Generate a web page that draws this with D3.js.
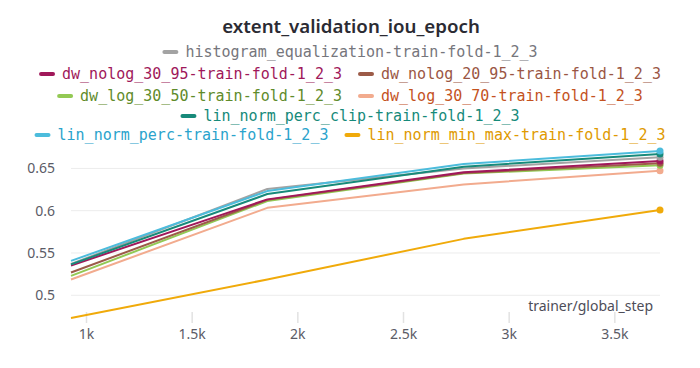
<!DOCTYPE html>
<html>
<head>
<meta charset="utf-8">
<script src="https://cdn.jsdelivr.net/npm/d3@7"></script>
<style>
  html, body { margin: 0; padding: 0; background: #fff; }
  svg { display: block; }
</style>
</head>
<body>
<svg id="chart" width="700" height="368"></svg>
<script>
const title = "extent_validation_iou_epoch";
const xLabel = "trainer/global_step";
const steps = [929, 1858, 2787, 3716];
const seriesNames = [
  "histogram_equalization-train-fold-1_2_3",
  "dw_nolog_30_95-train-fold-1_2_3",
  "dw_nolog_20_95-train-fold-1_2_3",
  "dw_log_30_50-train-fold-1_2_3",
  "dw_log_30_70-train-fold-1_2_3",
  "lin_norm_perc_clip-train-fold-1_2_3",
  "lin_norm_perc-train-fold-1_2_3",
  "lin_norm_min_max-train-fold-1_2_3"
];
const histogramEq = [0.5370, 0.6256, 0.6500, 0.6631];
const dwNolog3095 = [0.5352, 0.6134, 0.6454, 0.6588];
const dwNolog2095 = [0.5269, 0.6128, 0.6445, 0.6560];
const dwLog3050   = [0.5229, 0.6115, 0.6440, 0.6537];
const dwLog3070   = [0.5186, 0.6034, 0.6311, 0.6473];
const linPercClip = [0.5365, 0.6197, 0.6520, 0.6670];
const linPerc     = [0.5406, 0.6232, 0.6552, 0.6706];
const linMinMax   = [0.4731, 0.5186, 0.5667, 0.6007];
const seriesValues = [histogramEq, dwNolog3095, dwNolog2095, dwLog3050, dwLog3070, linPercClip, linPerc, linMinMax];
const xTicks = [1000, 1500, 2000, 2500, 3000, 3500];
const xTickLabels = ["1k", "1.5k", "2k", "2.5k", "3k", "3.5k"];
const yTicks = [0.5, 0.55, 0.6, 0.65];
const yTickLabels = ["0.5", "0.55", "0.6", "0.65"];

const lineColors = ["#a3a3a3", "#a0185a", "#9c5b48", "#93c954", "#f2ab8e", "#178a7a", "#4cbcdc", "#f0aa0a"];
const textColors = ["#76767c", "#a0185a", "#9a5644", "#5f8b2b", "#c4521e", "#168a7a", "#2aa3cc", "#e09a00"];

// legend rows: [series indices], centered
const legendRows = [[0], [1, 2], [3, 4], [5], [6, 7]];

const svg = d3.select("#chart");
const monoFont = "'DejaVu Sans Mono', 'Liberation Mono', monospace";
const sansFont = "'Noto Sans', 'Open Sans', sans-serif";

svg.append("text")
  .attr("x", 351).attr("y", 33)
  .attr("text-anchor", "middle")
  .attr("font-family", sansFont)
  .attr("font-weight", 600)
  .attr("font-size", 18.7)
  .attr("fill", "#2b2b33")
  .text(title);

// legend
const legendY = [52, 74, 96, 116, 135];
const gap = 18;
legendRows.forEach((row, ri) => {
  const g = svg.append("g");
  let x = 0;
  row.forEach((si, k) => {
    if (k > 0) x += gap;
    g.append("line")
      .attr("x1", x).attr("x2", x + 12)
      .attr("y1", 0).attr("y2", 0)
      .attr("stroke", lineColors[si]).attr("stroke-width", 4)
      .attr("stroke-linecap", "round");
    const t = g.append("text")
      .attr("x", x + 21).attr("y", 0)
      .attr("dy", "0.35em")
      .attr("font-family", monoFont)
      .attr("font-size", 15)
      .attr("fill", textColors[si])
      .text(seriesNames[si]);
    x += 21 + t.node().getComputedTextLength();
  });
  g.attr("transform", `translate(${351 - x / 2},${legendY[ri]})`);
});

const allVals = seriesValues.flat();
const x = d3.scaleLinear().domain(d3.extent(steps)).range([71, 660]);
const y = d3.scaleLinear().domain(d3.extent(allVals)).range([318, 151]);

// grid
svg.append("g").selectAll("line").data(yTicks).join("line")
  .attr("x1", 71).attr("x2", 660)
  .attr("y1", d => y(d)).attr("y2", d => y(d))
  .attr("stroke", "#ececec").attr("stroke-width", 1);

// y labels
svg.append("g").selectAll("text").data(yTicks).join("text")
  .attr("x", 55).attr("y", d => y(d))
  .attr("dy", "0.35em")
  .attr("text-anchor", "end")
  .attr("font-family", sansFont)
  .attr("font-size", 14)
  .attr("fill", "#5b5b66")
  .text((d, i) => yTickLabels[i]);

// x axis
const xAxis = d3.axisBottom(x).tickValues(xTicks).tickSize(11).tickPadding(6)
  .tickFormat((d, i) => xTickLabels[i]);
const xg = svg.append("g").attr("transform", "translate(0,312)").call(xAxis);
xg.select(".domain").remove();
xg.selectAll(".tick line").attr("stroke", "#e2e2e2").attr("stroke-width", 1.5);
xg.selectAll(".tick text")
  .attr("font-family", sansFont).attr("font-size", 14).attr("fill", "#5b5b66");

svg.append("text")
  .attr("x", 653).attr("y", 306)
  .attr("dy", "0.35em")
  .attr("text-anchor", "end")
  .attr("font-family", sansFont)
  .attr("font-size", 14)
  .attr("fill", "#4d4d58")
  .text(xLabel);

// lines
const line = d3.line().x((d, i) => x(steps[i])).y(d => y(d));
const drawOrder = [7, 4, 3, 2, 1, 0, 5, 6];
drawOrder.forEach(si => {
  svg.append("path")
    .datum(seriesValues[si])
    .attr("fill", "none")
    .attr("stroke", lineColors[si])
    .attr("stroke-width", 2)
    .attr("stroke-linejoin", "round")
    .attr("d", line);
});
drawOrder.forEach(si => {
  const v = seriesValues[si];
  svg.append("circle")
    .attr("cx", x(steps[steps.length - 1]))
    .attr("cy", y(v[v.length - 1]))
    .attr("r", 3.5)
    .attr("fill", lineColors[si]);
});
</script>
</body>
</html>
